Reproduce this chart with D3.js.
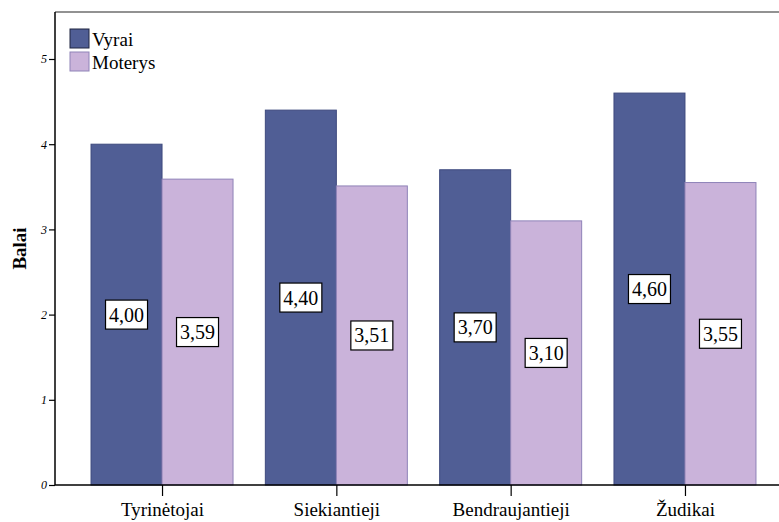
<!DOCTYPE html>
<html>
<head>
<meta charset="utf-8">
<script src="https://cdn.jsdelivr.net/npm/d3@7"></script>
<style>
  html, body { margin: 0; padding: 0; background: #fff; }
  svg { display: block; }
</style>
</head>
<body>
<svg id="chart" width="779" height="522"></svg>
<script>
const categories = ["Tyrinėtojai", "Siekiantieji", "Bendraujantieji", "Žudikai"];
const seriesNames = ["Vyrai", "Moterys"];
const vyrai = [4.00, 4.40, 3.70, 4.60];
const moterys = [3.59, 3.51, 3.10, 3.55];
const yTicks = [0, 1, 2, 3, 4, 5];

const fills = { Vyrai: "#505e95", Moterys: "#cab3da" };
const strokes = { Vyrai: "#3e4a7e", Moterys: "#8f83b8" };
const serif = "'Liberation Serif'";

const svg = d3.select("#chart");
const plotLeft = 55, plotTop = 12, plotBottom = 485;

const y = d3.scaleLinear().domain([0, 5]).range([plotBottom, plotBottom - 5 * 85.2]);
const x = d3.scalePoint().domain(categories).range([plotLeft, 792]).padding(0.614);
const barW = 71;
const sub = d3.scaleBand().domain(seriesNames).range([-barW, barW]).padding(0);

// frame: top border line
svg.append("line")
  .attr("x1", plotLeft).attr("x2", 779).attr("y1", plotTop).attr("y2", plotTop)
  .attr("stroke", "#6e6e6e").attr("stroke-width", 1.5);

const rows = categories.map((c, i) => ({ cat: c, Vyrai: vyrai[i], Moterys: moterys[i] }));

const groups = svg.append("g").selectAll("g").data(rows).join("g")
  .attr("transform", d => `translate(${x(d.cat)},0)`);

groups.selectAll("rect").data(d => seriesNames.map(s => ({ s, v: d[s] }))).join("rect")
  .attr("x", d => sub(d.s))
  .attr("width", sub.bandwidth())
  .attr("y", d => y(d.v))
  .attr("height", d => y(0) - y(d.v))
  .attr("fill", d => fills[d.s])
  .attr("stroke", d => strokes[d.s])
  .attr("stroke-width", 1);

// value labels in boxes, centred at half bar height
const lab = groups.selectAll("g.lab").data(d => seriesNames.map(s => ({ s, v: d[s] }))).join("g")
  .attr("class", "lab")
  .attr("transform", d => `translate(${sub(d.s) + sub.bandwidth() / 2},${y(d.v / 2)})`);
lab.append("rect")
  .attr("x", -21).attr("y", -14.5).attr("width", 42).attr("height", 29)
  .attr("fill", "#fff").attr("stroke", "#000").attr("stroke-width", 1.2);
lab.append("text")
  .attr("text-anchor", "middle").attr("y", 7)
  .style("font-family", serif)
  .attr("font-size", 20).attr("fill", "#000")
  .text(d => d3.format(".2f")(d.v).replace(".", ","));

// y axis
const yAxis = d3.axisLeft(y).tickValues(yTicks).tickSize(6).tickPadding(2).tickFormat(d3.format("d"));
const gy = svg.append("g").attr("transform", `translate(${plotLeft},0)`).call(yAxis);
gy.select(".domain").attr("d", `M-0,${plotBottom}V${plotTop}`).attr("stroke", "#000").attr("stroke-width", 1.5);
gy.selectAll(".tick line").attr("stroke", "#000").attr("stroke-width", 1.2);
gy.selectAll(".tick text").style("font-family", serif)
  .attr("font-size", 12).attr("font-style", "italic").attr("fill", "#000");

// x axis
const xAxis = d3.axisBottom(x).tickSize(11).tickPadding(4);
const gx = svg.append("g").attr("transform", `translate(0,${plotBottom})`).call(xAxis);
gx.select(".domain").attr("d", `M${plotLeft},0H779`).attr("stroke", "#000").attr("stroke-width", 1.5);
gx.selectAll(".tick line").attr("stroke", "#000").attr("stroke-width", 1.2);
gx.selectAll(".tick text").style("font-family", serif)
  .attr("font-size", 19).attr("fill", "#000")
  .attr("dy", null).attr("y", 31);

// y title
svg.append("text")
  .attr("transform", `translate(26,${(plotTop + plotBottom) / 2}) rotate(-90)`)
  .attr("text-anchor", "middle")
  .style("font-family", serif)
  .attr("font-size", 19).attr("font-weight", "bold").attr("fill", "#000")
  .text("Balai");

// legend
const lg = svg.append("g").attr("transform", "translate(70,29)");
const li = lg.selectAll("g").data(seriesNames).join("g")
  .attr("transform", (d, i) => `translate(0,${i * 23})`);
li.append("rect").attr("width", 19).attr("height", 19)
  .attr("fill", d => fills[d]).attr("stroke", d => d === "Vyrai" ? "#1e2440" : "#8f83b8").attr("stroke-width", 1);
li.append("text").attr("x", 22).attr("y", 17)
  .style("font-family", serif)
  .attr("font-size", 19).attr("fill", "#000")
  .text(d => d);
</script>
</body>
</html>
